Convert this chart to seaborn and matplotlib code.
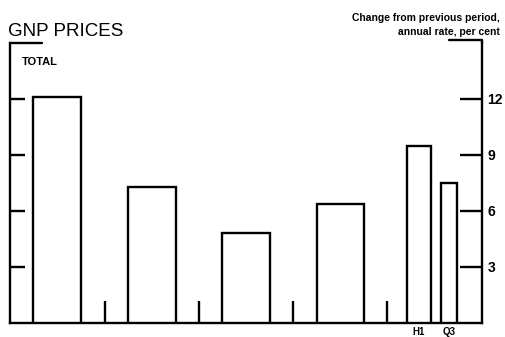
import matplotlib
matplotlib.use("Agg")
import matplotlib.pyplot as plt
import seaborn as sns

# data
periods = ["P1", "P2", "P3", "P4", "H1", "Q3"]
values = [12.1, 7.3, 4.8, 6.4, 9.5, 7.5]
period_labels = ["", "", "", "", "H1", "Q3"]
y_ticks = [3, 6, 9, 12]

# layout (x positions along the axis, not data)
centers = [47, 142, 236, 330.5, 409, 439]
widths = [48, 48, 48, 47, 24, 16]
separators = [95, 189, 283, 377]
sep_height = 1.2

sns.set_theme(style="white")
plt.rcParams["font.family"] = ["Liberation Sans", "DejaVu Sans"]
plt.rcParams.update({"text.color": "black", "axes.labelcolor": "black",
                     "xtick.color": "black", "ytick.color": "black"})

fig = plt.figure(figsize=(5.05, 3.37), dpi=100)
ax = fig.add_axes([10 / 505, 1 - 323 / 337, 472 / 505, 280 / 337])

ax.bar(centers, values, width=widths, facecolor="white", edgecolor="black",
       linewidth=1.7, zorder=3)
ax.vlines(separators, 0, sep_height, color="black", linewidth=1.7)

ax.set_xlim(0, 472)
ax.set_ylim(0, 15)

for s in ["left", "right", "bottom"]:
    ax.spines[s].set_visible(True)
    ax.spines[s].set_color("black")
    ax.spines[s].set_linewidth(1.7)
ax.spines["top"].set_visible(False)

ax.set_yticks(y_ticks)
ax.yaxis.set_ticks_position("both")
ax.tick_params(axis="y", which="both", direction="in", width=1.7,
               left=True, right=True, labelleft=False, labelright=True,
               labelsize=10, pad=4, colors="black")
ax.tick_params(axis="y", which="major", length=11)
for t in ax.yaxis.get_ticklines()[1::2]:
    t.set_markersize(16)
for lab in ax.get_yticklabels():
    lab.set_fontweight("bold")

ax.set_xticks(centers[4:])
ax.set_xticklabels(period_labels[4:], fontsize=7, fontweight="bold")
ax.tick_params(axis="x", length=0, pad=3, colors="black")

# top stubs
ax.plot([0, 32 / 472], [1, 1], transform=ax.transAxes, color="black",
        linewidth=1.7, clip_on=False)
ax.plot([439 / 472, 1], [1.01, 1.01], transform=ax.transAxes, color="black",
        linewidth=1.7, clip_on=False)
ax.plot([1, 1], [1, 1.01], transform=ax.transAxes, color="black",
        linewidth=1.7, clip_on=False)

fig.text(8 / 505, 1 - 32 / 337, "GNP PRICES", fontsize=13.5, va="center",
         ha="left", color="black")
fig.text(22 / 505, 1 - 62 / 337, "TOTAL", fontsize=8, fontweight="bold",
         va="center", ha="left", color="black")
fig.text(500 / 505, 1 - 18 / 337, "Change from previous period,", fontsize=7.5,
         fontweight="bold", va="center", ha="right", color="black")
fig.text(500 / 505, 1 - 32 / 337, "annual rate, per cent", fontsize=7.5,
         fontweight="bold", va="center", ha="right", color="black")

fig.savefig("out.png", dpi=100)
